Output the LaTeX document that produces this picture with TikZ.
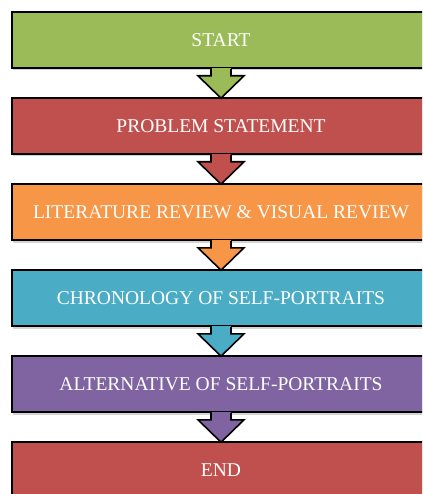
\documentclass[tikz,border=0pt]{standalone}
\usepackage{fontspec}
\setmainfont{Liberation Serif}
\usetikzlibrary{calc,shadows}

\definecolor{stepgreen}{HTML}{9BBB59}
\definecolor{stepred}{HTML}{C0504D}
\definecolor{steporange}{HTML}{F79646}
\definecolor{stepblue}{HTML}{4BACC6}
\definecolor{steppurple}{HTML}{8064A2}

\begin{document}
\begin{tikzpicture}[x=1pt, y=-1pt,
    stepbox/.style={draw=black, line width=1.6pt, minimum width=418pt, minimum height=56pt,
        text=white, font=\fontsize{19.5}{22}\selectfont,
        drop shadow={opacity=0.35, shadow xshift=1pt, shadow yshift=-2.5pt}},
    blockarrow/.style={draw=black, line width=1.6pt, line join=miter}]
                \useasboundingbox (0,0) rectangle (422,494);
                \clip (0,0) rectangle (422,494);

                \node[stepbox, fill=stepgreen]  (start) at (221,40)  {START};
                \node[stepbox, fill=stepred]    (prob)  at (221,126) {PROBLEM STATEMENT};
                \node[stepbox, fill=steporange] (lit)   at (221,212) {LITERATURE REVIEW \& VISUAL REVIEW};
                \node[stepbox, fill=stepblue]   (chron) at (221,298) {CHRONOLOGY OF SELF-PORTRAITS};
                \node[stepbox, fill=steppurple] (alt)   at (221,384) {ALTERNATIVE OF SELF-PORTRAITS};
                \node[stepbox, fill=stepred]    (end)   at (221,470) {END};

                \foreach \a/\b/\c in {start/prob/stepgreen, prob/lit/stepred, lit/chron/steporange,
                                      chron/alt/stepblue, alt/end/steppurple}
                {
                    \fill[\c] ($(\a.south)+(-9.5,-1)$) rectangle ($(\a.south)+(9.5,8)$);
                    \draw[blockarrow, fill=\c] ($(\a.south)+(-10,0)$) -- ++(0,7) -- ++(-13,0)
                        -- ($(\b.north)+(0,1)$) -- ($(\a.south)+(23,7)$) -- ++(-13,0) -- ($(\a.south)+(10,0)$);
                }
            \end{tikzpicture}
\end{document}
